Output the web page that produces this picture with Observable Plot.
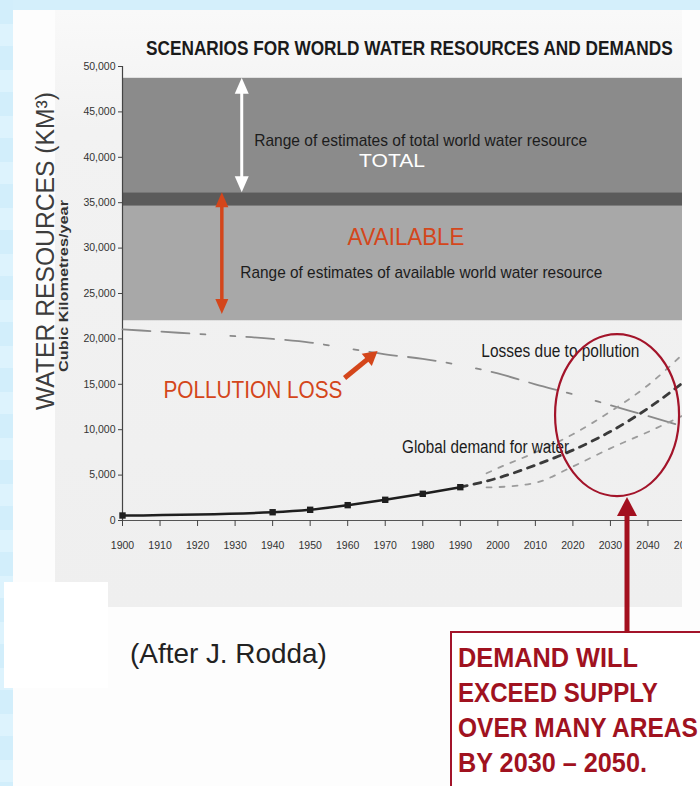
<!DOCTYPE html>
<html><head><meta charset="utf-8">
<script src="https://cdn.jsdelivr.net/npm/d3@7"></script>
<script src="https://cdn.jsdelivr.net/npm/@observablehq/plot@0.6"></script>
<style>
html,body{margin:0;padding:0;}
body{width:700px;height:786px;position:relative;overflow:hidden;background:#d4effb;font-family:"Liberation Sans",Arial,sans-serif;}
#stripes{position:absolute;left:0;top:0;width:13px;height:786px;background:repeating-linear-gradient(180deg,#d2eefb 0 24px,#ddf3fd 24px 46px);}
#white{position:absolute;left:13px;top:10px;width:687px;height:776px;background:#fdfdfd;}
#paper{position:absolute;left:55px;top:10px;width:627px;height:597px;background:linear-gradient(180deg,#f9f9f9 0%,#f2f2f2 20%,#efefef 100%);}
#leftbox{position:absolute;left:4px;top:582px;width:104px;height:106px;background:#ffffff;}
#clip{position:absolute;left:0;top:0;width:682px;height:607px;overflow:hidden;}
#overlay{position:absolute;left:0;top:0;}
</style></head>
<body>
<div id="stripes"></div><div id="white"></div><div id="paper"></div><div id="leftbox"></div>
<div id="clip"></div>
<svg id="overlay" width="700" height="786"></svg>
<script>
// ---------- data ----------
const tickYears = [1900,1910,1920,1930,1940,1950,1960,1970,1980,1990,2000,2010,2020,2030,2040,2050];
const tickValues = [0,5000,10000,15000,20000,25000,30000,35000,40000,45000,50000];

const bandNames = ["total","divide","available"];
const bandLow  = [36100, 34600, 22000];
const bandHigh = [48700, 36100, 34600];

const demandYears  = [1900,1940,1950,1960,1970,1980,1990];
const demandValues = [550,910,1180,1690,2280,2940,3670];

const midYears  = [1990,2000,2010,2020,2030,2040,2050];
const midValues = [3670,4680,6100,7750,9800,12350,15400];
const highYears  = [1997,2000,2010,2020,2030,2040,2050];
const highValues = [5200,5760,7500,9500,12000,14900,18600];
const lowYears  = [1997,2000,2010,2020,2030,2040,2050];
const lowValues = [3650,3680,4150,5950,7950,9750,11700];

const lossYears  = [1900,1910,1920,1930,1940,1950,1960,1970,1980,1990,2000,2010,2020,2030,2040,2050];
const lossValues = [21050,20800,20550,20300,20000,19600,18950,18300,17800,17100,16200,15000,13900,12700,11500,10300];

const noteText  = ["Range of estimates of total world water resource","TOTAL","AVAILABLE",
                   "Range of estimates of available world water resource","Losses due to pollution",
                   "POLLUTION LOSS","Global demand for water"];
const noteYear  = [1935.1, 1971.8, 1975.5, 1931.4, 1995.6, 1910.9, 1974.5];
const noteValue = [41850, 39600, 31170, 27310, 18610, 14320, 8040];

// arrows inside the chart
const arrowNames = ["total","available","pollution"];
const arrowFromYear  = [1931.9, 1926.6, 1959.3];
const arrowFromValue = [36100, 36100, 15640];
const arrowToYear    = [1931.9, 1926.6, 1968.1];
const arrowToValue   = [48700, 22700, 18610];

const circleYear = 2031.9, circleValue = 11560;
const titleText = "SCENARIOS FOR WORLD WATER RESOURCES AND DEMANDS";
const yTitle = "WATER RESOURCES (KM³)";
const ySubtitle = "Cubic Kilometres/year";
const credit = "(After J. Rodda)";
const boxLines = ["DEMAND WILL","EXCEED SUPPLY","OVER MANY AREAS","BY 2030 – 2050."];

// ---------- styles ----------
const bandFill = {total:"#8b8b8b", divide:"#5b5b5b", available:"#a8a8a8"};
const orange = "#d4461b", darkRed = "#a3142a";
const noteStyle = [
  {fill:"#1c1c1c", fontSize:17, textAnchor:"start", len:333},
  {fill:"#ffffff", fontSize:19, textAnchor:"middle", len:66},
  {fill:orange, fontSize:23, textAnchor:"middle", len:117},
  {fill:"#1c1c1c", fontSize:17, textAnchor:"start", len:362},
  {fill:"#1c1c1c", fontSize:18, textAnchor:"start", len:158},
  {fill:orange, fontSize:24, textAnchor:"start", len:179},
  {fill:"#1c1c1c", fontSize:18, textAnchor:"start", len:167}
];

const bands = bandNames.map((n,i)=>({name:n, lo:bandLow[i], hi:bandHigh[i]}));
const demand = demandYears.map((y,i)=>({year:y, value:demandValues[i]}));
const mid = midYears.map((y,i)=>({year:y, value:midValues[i]}));
const high = highYears.map((y,i)=>({year:y, value:highValues[i]}));
const low = lowYears.map((y,i)=>({year:y, value:lowValues[i]}));
const loss = lossYears.map((y,i)=>({year:y, value:lossValues[i]}));

const chart = Plot.plot({
  width: 700, height: 607,
  marginLeft: 122, marginRight: 15, marginTop: 66, marginBottom: 87,
  style: {background:"transparent", maxWidth:"none", fontFamily:"'Liberation Sans Narrow','Liberation Sans',Arial,sans-serif", fontSize:"11px", color:"#333"},
  x: {domain:[1900,2050], ticks: tickYears, tickFormat: d=>String(d), tickSize:6, tickPadding:15, label:null},
  y: {domain:[0,50000], ticks: tickValues, tickFormat: d3.format(","), tickSize:4, tickPadding:3, label:null},
  marks: [
    Plot.rect(bands, {x1:()=>1900, x2:()=>2050, y1:"lo", y2:"hi", fill:d=>bandFill[d.name]}),
    Plot.ruleX([1900], {stroke:"#444", strokeWidth:1.2}),
    Plot.ruleY([0], {stroke:"#555", strokeWidth:1.2}),
    Plot.line(loss, {x:"year", y:"value", stroke:"#8a8a8a", strokeWidth:1.8, strokeDasharray:"28,11,28,11,5,25,5,11", curve:"monotone-x"}),
    Plot.line(high, {x:"year", y:"value", stroke:"#9c9c9c", strokeWidth:1.8, strokeDasharray:"5,8", curve:"monotone-x"}),
    Plot.line(low, {x:"year", y:"value", stroke:"#9c9c9c", strokeWidth:1.8, strokeDasharray:"5,8", curve:"monotone-x"}),
    Plot.line(mid, {x:"year", y:"value", stroke:"#3a3a3a", strokeWidth:2.8, strokeDasharray:"7,7", curve:"monotone-x"}),
    Plot.line(demand, {x:"year", y:"value", stroke:"#1e1e1e", strokeWidth:2.5, curve:"monotone-x"}),
    Plot.dot(demand, {x:"year", y:"value", symbol:"square", r:3.6, fill:"#1e1e1e", stroke:null}),
    ...noteText.map((t,i)=>Plot.text([i], {x:()=>noteYear[i], y:()=>noteValue[i], text:()=>noteText[i],
        fill:noteStyle[i].fill, fontSize:noteStyle[i].fontSize, textAnchor:noteStyle[i].textAnchor,
        fontFamily:"'Liberation Sans',Arial,sans-serif"})),
    Plot.axisX({ticks: tickYears, tickFormat:d=>String(d), tickSize:6, tickPadding:15, fontSize:10.5, stroke:"#444"}),
    Plot.axisY({ticks: tickValues, tickFormat:d3.format(","), tickSize:4, tickPadding:3, fontSize:10.5, stroke:"#444"})
  ]
});
document.getElementById("clip").appendChild(chart);

// stretch annotation text to measured widths
const lens = {};
noteText.forEach((t,i)=>lens[t]=noteStyle[i].len);
d3.select(chart).selectAll("text").each(function(){
  const t = this.textContent;
  if (lens[t]) d3.select(this).attr("textLength", lens[t]).attr("lengthAdjust","spacingAndGlyphs");
});

const xs = chart.scale("x"), ys = chart.scale("y");
const X = v => xs.apply(v), Y = v => ys.apply(v);
const ov = d3.select("#overlay");

// text squeezed horizontally to a target width (condensed look)
function fitText(x, y, target, attrs, txt){
  const g = ov.append("g").attr("transform", `translate(${x},${y})`);
  const t = g.append("text").attr("x",0).attr("y",0).text(txt);
  Object.entries(attrs).forEach(([k,v])=>t.attr(k,v));
  const w = t.node().getComputedTextLength();
  t.attr("transform", `scale(${target/w},1)`);
  return t;
}

function arrow(x1,y1,x2,y2,color,w,hl,hw,both){
  const dx=x2-x1, dy=y2-y1, L=Math.hypot(dx,dy), ux=dx/L, uy=dy/L, px=-uy, py=ux;
  const sx = both ? x1+ux*hl*0.8 : x1, sy = both ? y1+uy*hl*0.8 : y1;
  const ex = x2-ux*hl*0.8, ey = y2-uy*hl*0.8;
  ov.append("line").attr("x1",sx).attr("y1",sy).attr("x2",ex).attr("y2",ey)
    .attr("stroke",color).attr("stroke-width",w);
  const head=(tx,ty,dx_,dy_)=>{const bx=tx-dx_*hl, by=ty-dy_*hl;
    return `${tx},${ty} ${bx+px*hw/2},${by+py*hw/2} ${bx-px*hw/2},${by-py*hw/2}`;};
  ov.append("polygon").attr("points",head(x2,y2,ux,uy)).attr("fill",color);
  if (both) ov.append("polygon").attr("points",head(x1,y1,-ux,-uy)).attr("fill",color);
}
const arrowStyle = {
  total:{color:"#ffffff", w:3, hl:16, hw:14, both:true},
  available:{color:orange, w:3.5, hl:15, hw:13, both:true},
  pollution:{color:orange, w:5, hl:14, hw:16, both:false}
};
arrowNames.forEach((n,i)=>{
  const s=arrowStyle[n];
  arrow(X(arrowFromYear[i]),Y(arrowFromValue[i]),X(arrowToYear[i]),Y(arrowToValue[i]),s.color,s.w,s.hl,s.hw,s.both);
});

// title
fitText(146, 55, 527, {"font-size":21, "font-weight":"bold", fill:"#1a1a1a"}, titleText);
// y titles
ov.append("text").attr("transform","translate(54,251) rotate(-90)").attr("text-anchor","middle")
  .attr("font-size",25).attr("fill","#3d3d3d").attr("textLength",318).attr("lengthAdjust","spacingAndGlyphs").text(yTitle);
ov.append("text").attr("transform","translate(68,286) rotate(-90)").attr("text-anchor","middle")
  .attr("font-size",13).attr("font-weight","bold").attr("fill","#333").attr("textLength",172).attr("lengthAdjust","spacingAndGlyphs").text(ySubtitle);

// ellipse and callout
const cx = X(circleYear), cy = Y(circleValue), rx = 62, ry = 81;
ov.append("ellipse").attr("cx",cx).attr("cy",cy).attr("rx",rx).attr("ry",ry)
  .attr("fill","none").attr("stroke",darkRed).attr("stroke-width",2.2);
ov.append("rect").attr("x",451).attr("y",632).attr("width",300).attr("height",200)
  .attr("fill","#ffffff").attr("stroke",darkRed).attr("stroke-width",2);
arrow(627,633,627,cy+ry+1,"#a3101f",5,19,20,false);
const boxLens = [180,200,240,189];
boxLines.forEach((t,i)=>{
  fitText(458, 667+i*35, boxLens[i], {"font-size":27, "font-weight":"bold", fill:"#a0121f"}, t);
});
fitText(130, 663, 197, {"font-size":27, fill:"#222"}, credit);
</script>
</body></html>
